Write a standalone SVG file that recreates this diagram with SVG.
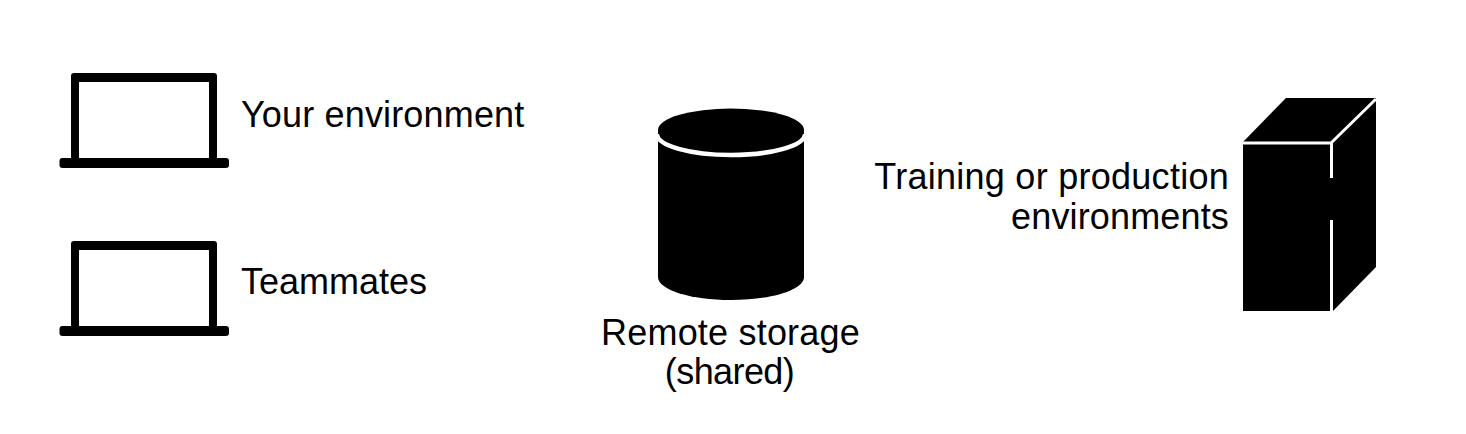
<svg xmlns="http://www.w3.org/2000/svg" width="1466" height="434" viewBox="0 0 1466 434">
<style>
.t{font-family:"Liberation Sans",Arial,sans-serif;font-size:36px;fill:#000}
.e{text-anchor:end}.m{text-anchor:middle}
</style>
<defs>
<g id="laptop">
<path fill-rule="evenodd" d="M74 73H214Q217 73 217 76V158H226Q229 158 229 161V165Q229 168 226 168H62.500Q59.500 168 59.500 165V161Q59.500 158 62.500 158H71V76Q71 73 74 73ZM79 82V158H209V82Z"/>
</g>
</defs>
<rect width="1466" height="434" fill="#fff"/>
<g id="your-environment">
<use href="#laptop"/>
<text class="t" x="241" y="127" style="letter-spacing:.16px">Your environment</text>
</g>
<g id="teammates">
<use href="#laptop" y="168"/>
<text class="t" x="241" y="294">Teammates</text>
</g>
<g id="remote-storage">
<path d="M658 130V277C658 290 691 300 731 300S804 290 804 277V130Z"/>
<path d="M657 134A74 21 0 0 0 805 134" fill="none" stroke="#fff" stroke-width="4.500"/>
<ellipse cx="731" cy="130" rx="73" ry="21.500"/>
<text class="t m" x="730.500" y="345" style="letter-spacing:.2px">Remote storage</text>
<text class="t m" x="729.500" y="384" style="letter-spacing:-.6px">(shared)</text>
</g>
<g id="training-production">
<path d="M1243 142L1286 98H1376V267L1333 311H1243Z"/>
<path d="M1243 143H1331.500V178M1331.500 220V311M1331 143L1376 99" fill="none" stroke="#fff" stroke-width="3"/>
<text class="t e" x="1229" y="189" style="letter-spacing:.27px">Training or production</text>
<text class="t e" x="1229" y="229" style="letter-spacing:.15px">environments</text>
</g>
<g id="connectors"></g>
</svg>
